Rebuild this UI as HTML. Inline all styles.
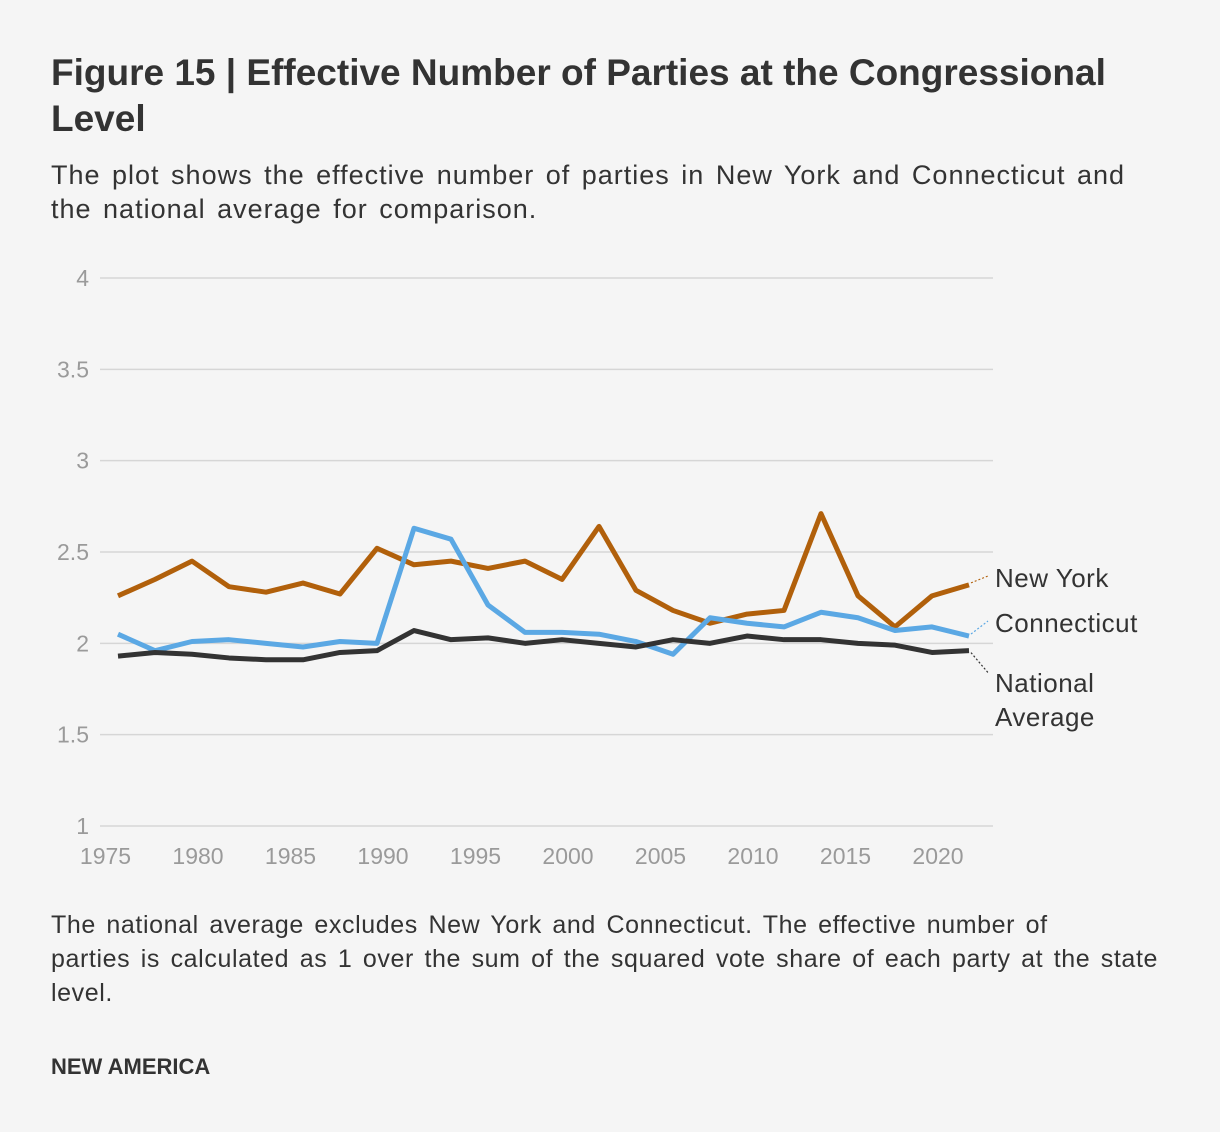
<!DOCTYPE html>
<html><head><meta charset="utf-8"><style>
body{margin:0;background:#f5f5f5;font-family:"Liberation Sans",sans-serif;color:#333;}
#wrap{position:relative;width:1220px;height:1132px;overflow:hidden}
h1{position:absolute;left:51px;top:50px;margin:0;font-size:37px;line-height:46px;font-weight:bold;width:1160px;color:#333;white-space:nowrap}
.sub{position:absolute;left:51px;top:158px;margin:0;font-size:27px;line-height:34px;letter-spacing:1px;word-spacing:3px;width:1160px;color:#333;white-space:nowrap}
.note{position:absolute;left:51px;top:908px;margin:0;font-size:25px;line-height:34px;letter-spacing:0.6px;word-spacing:3px;width:1160px;color:#333;white-space:nowrap}
.brand{position:absolute;left:51px;top:1054px;font-size:22px;font-weight:bold;color:#333}
svg{position:absolute;left:0;top:0}
</style></head><body><div id="wrap">
<h1>Figure 15 | Effective Number of Parties at the Congressional<br>Level</h1>
<p class="sub">The plot shows the effective number of parties in New York and Connecticut and<br>the national average for comparison.</p>
<svg id="chart" width="1220" height="1132"></svg>
<p class="note">The national average excludes New York and Connecticut. The effective number of<br>parties is calculated as 1 over the sum of the squared vote share of each party at the state<br>level.</p>
<div class="brand">NEW AMERICA</div>
</div>
<script>
const years=[1976,1978,1980,1982,1984,1986,1988,1990,1992,1994,1996,1998,2000,2002,2004,2006,2008,2010,2012,2014,2016,2018,2020,2022];
const newYork=[2.26,2.35,2.45,2.31,2.28,2.33,2.27,2.52,2.43,2.45,2.41,2.45,2.35,2.64,2.29,2.18,2.11,2.16,2.18,2.71,2.26,2.09,2.26,2.32];
const connecticut=[2.05,1.96,2.01,2.02,2.00,1.98,2.01,2.00,2.63,2.57,2.21,2.06,2.06,2.05,2.01,1.94,2.14,2.11,2.09,2.17,2.14,2.07,2.09,2.04];
const national=[1.93,1.95,1.94,1.92,1.91,1.91,1.95,1.96,2.07,2.02,2.03,2.00,2.02,2.00,1.98,2.02,2.00,2.04,2.02,2.02,2.00,1.99,1.95,1.96];
const yTicks=[1,1.5,2,2.5,3,3.5,4];
const yTickLabels=["1","1.5","2","2.5","3","3.5","4"];
const xTicks=[1975,1980,1985,1990,1995,2000,2005,2010,2015,2020];
const seriesNames=["New York","Connecticut","National Average"];
const NS="http://www.w3.org/2000/svg";
const svg=document.getElementById('chart');
const X=v=>99.5+(v-1975)*18.5;
const Y=v=>826-(v-1)*182.67;
function el(t,a,p){const e=document.createElementNS(NS,t);for(const k in a)e.setAttribute(k,a[k]);(p||svg).appendChild(e);return e;}
yTicks.forEach((t,i)=>{
 const l=el('line',{x1:100,x2:993,y1:Y(t),y2:Y(t),stroke:'#d6d6d6','stroke-width':1.5});
 
 
 const tx=el('text',{x:89,y:Y(t)+8,'text-anchor':'end','font-size':23,fill:'#9a9a9a','font-family':'Liberation Sans, sans-serif'});
 tx.textContent=yTickLabels[i];
 
 
});
xTicks.forEach(t=>{
 const tx=el('text',{x:X(t)+6,y:864,'text-anchor':'middle','font-size':23,fill:'#9a9a9a','font-family':'Liberation Sans, sans-serif'});
 tx.textContent=t;
 
 
});
const series=[[newYork,'#b1600b','new-york-line'],[connecticut,'#5ba8e4','connecticut-line'],[national,'#333333','national-average-line']];
series.forEach(([d,c,n])=>{
 const p=el('polyline',{points:d.map((v,i)=>X(years[i])+','+Y(v)).join(' '),fill:'none',stroke:c,'stroke-width':5,'stroke-linejoin':'round'});
 
 
});
const last=years.length-1;
const labels=[[newYork[last],seriesNames[0],578,-1,'#b1600b'],[connecticut[last],seriesNames[1],623,-1,'#5ba8e4'],[national[last],seriesNames[2],683,1,'#333']];
labels.forEach(([v,name,ly,dir,c])=>{
 const x0=X(years[last]),y0=Y(v);
 const ln=el('line',{x1:x0+2,y1:y0+(dir>0?2:-2),x2:988,y2:dir>0?y0+22:ly+(dir<0? -2:0),stroke:c,'stroke-width':1.2,'stroke-dasharray':'2,2'});
 
 
 const parts=name==='National Average'?['National','Average']:[name];
 parts.forEach((s,i)=>{
  const t=el('text',{x:995,y:ly+9+i*34,'font-size':26,'letter-spacing':0.5,fill:'#333','font-family':'Liberation Sans, sans-serif'});
  t.textContent=s;
  
  
 });
});
</script></body></html>
